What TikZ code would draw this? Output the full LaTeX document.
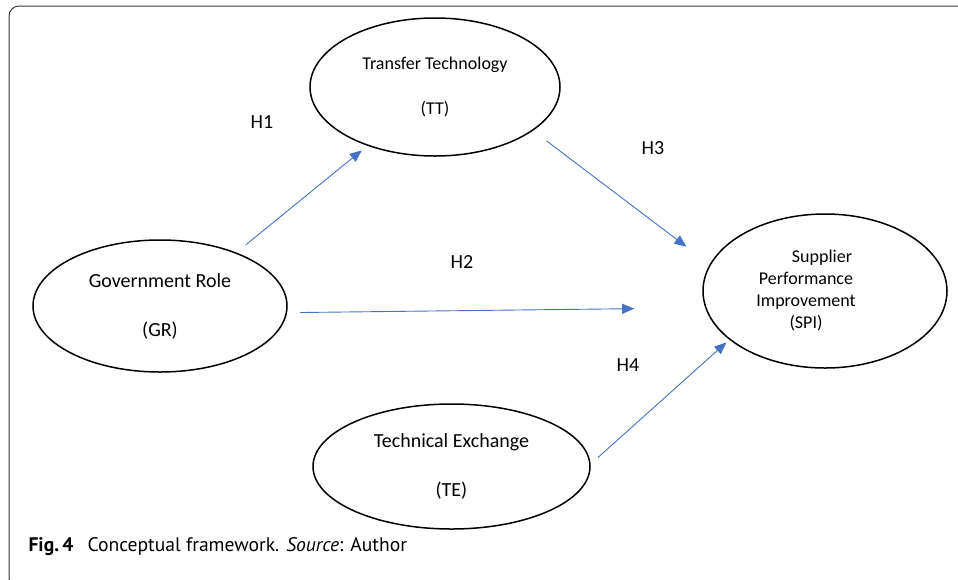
\documentclass[tikz,border=0pt]{standalone}
\usepackage{fontspec}
\setmainfont{Carlito}
\newfontfamily\capfont{PT Sans}
\usetikzlibrary{shapes.geometric,arrows.meta}
\definecolor{linkblue}{HTML}{4472C4}
\definecolor{framegray}{HTML}{3A3A3A}

\tikzset{
  construct/.style = {shape=ellipse, draw, line width=1.5pt,
                      align=center, inner sep=0pt,
                      font=\fontsize{20}{24}\selectfont},
  smalltext/.style = {font=\fontsize{18}{22}\selectfont},
  link/.style      = {draw=linkblue, line width=0.9pt,
                      -{Triangle[length=12pt,width=10pt]}},
  hyp/.style       = {font=\fontsize{20}{24}\selectfont},
  frame/.style     = {draw=framegray, line width=1pt, rounded corners=10pt}
}

\begin{document}
\begin{tikzpicture}[x=1pt,y=-1pt]
\useasboundingbox (0,0) rectangle (958,579);
\begin{scope}
\clip (0,0) rectangle (958,579);
\draw[frame] (9,6) rectangle (985,588);
\end{scope}

\node[construct, smalltext, minimum width=250pt, minimum height=138pt] (tt) at (435,87)
  {Transfer Technology\\[23pt](TT)};
\node[construct, minimum width=254pt, minimum height=132pt] (gr) at (160,306)
  {Government Role\\[25pt](GR)};
\node[construct, minimum width=277pt, minimum height=125pt] (te) at (451.5,466.5)
  {Technical Exchange\\[25pt](TE)};
\node[construct, smalltext, minimum width=244pt, minimum height=154pt] (spi) at (825,291)
  {\begin{tabular}{@{}c@{}}\hspace*{32pt}Supplier\\Performance\\Improvement\\(SPI)\end{tabular}\kern38pt};

\node[hyp] (h1) at (262,122) {H1};
\node[hyp] (h2) at (462,262) {H2};
\node[hyp] (h3) at (653,148) {H3};
\node[hyp] (h4) at (628,365) {H4};

\draw[link, shorten <=12.3pt, shorten >=7.2pt] (gr.35.4) -- (tt.221.4);
\draw[link, shorten <=16.9pt, shorten >=29.2pt] (tt.-24.5) -- (spi.167);
\draw[link, shorten <=12.7pt, shorten >=71pt] (gr.-3.2) -- (spi.188.2);
\draw[link, shorten <=9.7pt, shorten >=4pt] (te.1.7) -- (spi.207);

\node[anchor=base west, font=\capfont\fontsize{19.6}{24}\selectfont] (caption) at (25,551)
  {\textbf{Fig.\,4}\hspace{0.45em} Conceptual framework. \textit{Source}: Author};
\end{tikzpicture}
\end{document}
